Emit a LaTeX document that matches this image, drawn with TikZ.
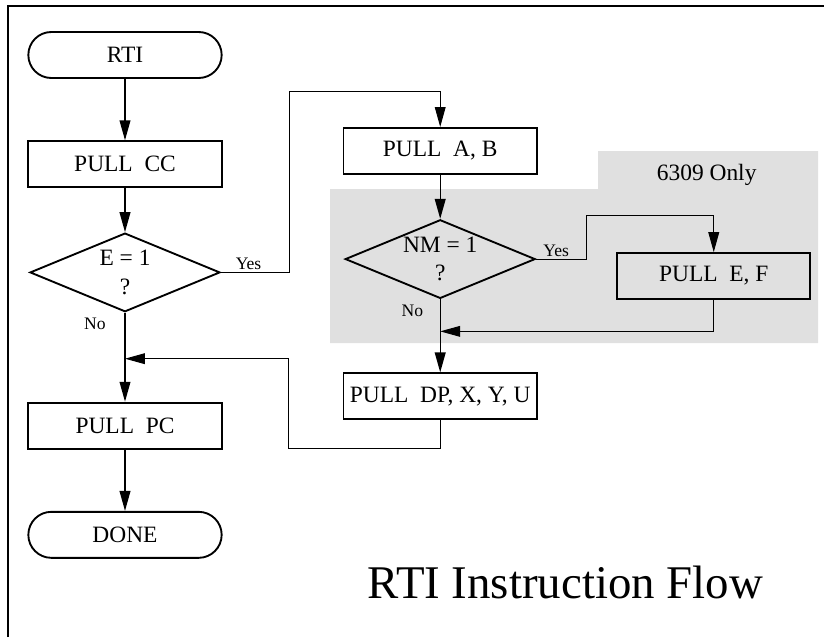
\documentclass[tikz,border=0pt]{standalone}
\usepackage{fontspec}
\setmainfont{Liberation Serif}
\usetikzlibrary{shapes.geometric, arrows.meta, positioning, calc}

\definecolor{shadegray}{RGB}{224,224,224}

\begin{document}
\begin{tikzpicture}[
    node distance=0.92cm,
    every node/.style={font=\fontsize{10}{12}\selectfont},
    terminal/.style={
        rectangle,
        rounded corners=0.345cm,
        minimum width=2.9cm,
        minimum height=0.69cm,
        draw=black,
        line width=0.8pt
    },
    process/.style={
        rectangle,
        minimum width=2.9cm,
        minimum height=0.69cm,
        inner sep=1pt,
        draw=black,
        line width=0.8pt
    },
    decision/.style={
        diamond,
        aspect=2.4,
        minimum width=2.85cm,
        minimum height=1.18cm,
        inner sep=-2pt,
        align=center,
        draw=black,
        line width=0.8pt
    },
    flow/.style={line width=0.6pt, -{Triangle[length=8.5pt, width=4.6pt]}},
    link/.style={line width=0.4pt, -{Triangle[length=8.5pt, width=4.6pt]}},
    answer/.style={font=\fontsize{7.5}{9}\selectfont, inner sep=1pt}
]
    \useasboundingbox (0,0) rectangle (12.36,-9.555);

    % Shaded 6309 area
    \fill[shadegray] (4.95,-2.835) -- (8.97,-2.835) -- (8.97,-2.265) -- (12.27,-2.265)
        -- (12.27,-5.145) -- (4.95,-5.145) -- cycle;

    % Frame
    \draw[line width=0.6pt] (0.12,-9.555) |- (12.36,-0.09);

    % Left column
    \node (rti) [terminal] at (1.875,-0.825) {RTI};
    \node (pullcc) [process, below=of rti] {PULL~~CC};
    \node (eone) [decision, below=0.66cm of pullcc] {E = 1\\?};
    \node (pullpc) [process, below=1.335cm of eone] {PULL~~PC};
    \node (done) [terminal, below=of pullpc] {DONE};

    % Right column
    \node (pullab) [process, right=1.8cm of pullcc, yshift=0.2cm] {PULL~~A, B};
    \node (nmone) [decision, below=0.66cm of pullab] {NM = 1\\?};
    \node (pullef) [process, right=1.2cm of nmone, yshift=-0.255cm] {PULL~~E, F};
    \node (pulldp) [process, below=1.095cm of nmone] {PULL~~DP, X, Y, U};

    % Texts
    \node (only) [anchor=base] at (10.6,-2.7) {6309 Only};
    \node (heading) [font=\fontsize{20}{24}\selectfont, anchor=base] at (8.48,-8.97) {RTI Instruction Flow};

    % Merge points
    \coordinate (mergea) at ($(eone.south)+(0,-0.69cm)$);
    \coordinate (mergeb) at ($(nmone.south)+(0,-0.48cm)$);

    % Connections
    \draw [flow] (rti) -- (pullcc);
    \draw [flow] (pullcc) -- (eone);
    \draw [flow] (eone.south) -- node[answer, pos=0, anchor=north east, xshift=-7pt, yshift=-1pt] {No} (pullpc);
    \draw [flow] (pullpc) -- (done);
    \draw [link] (eone.east) -- node[answer, pos=0.4, above] {Yes} ++(1.035cm,0)
        |- ($(pullab.north)+(0,0.525cm)$) -- (pullab.north);

    \draw [flow] (pullab) -- (nmone);
    \draw [flow] (nmone.south) -- node[answer, pos=0, anchor=north east, xshift=-6pt, yshift=-1pt] {No} (pulldp);
    \draw [link] (nmone.east) -- node[answer, pos=0.4, above] {Yes} ++(0.75cm,0)
        |- ($(pullef.north)+(0,0.555cm)$) -- (pullef.north);
    \draw [link] (pullef.south) |- (mergeb);
    \draw [link] (pulldp.south) -- ++(0,-0.42cm) -| ($(mergea)+(2.445cm,0)$) -- (mergea);

\end{tikzpicture}
\end{document}
